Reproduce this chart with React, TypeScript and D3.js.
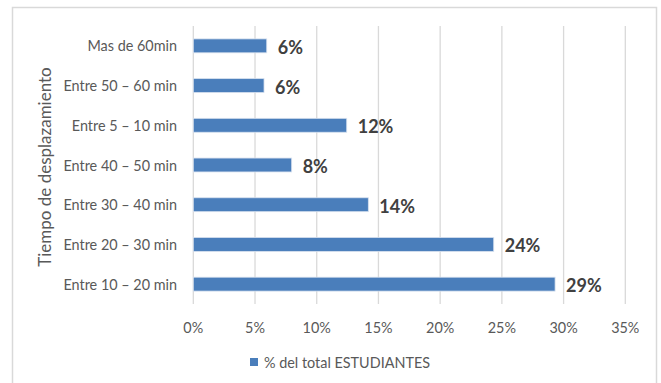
import React from "react";
import * as d3 from "d3";

// Travel-time categories, top to bottom as drawn
const categories: string[] = [
  "Mas de 60min",
  "Entre 50 – 60 min",
  "Entre 5 – 10 min",
  "Entre 40 – 50 min",
  "Entre 30 – 40 min",
  "Entre 20 – 30 min",
  "Entre 10 – 20 min",
];

// Share of all students per category
const shares: number[] = [0.0595, 0.0573, 0.1243, 0.0797, 0.1418, 0.2434, 0.2931];

const xTicks: number[] = [0, 0.05, 0.1, 0.15, 0.2, 0.25, 0.3, 0.35];

const seriesName = "% del total ESTUDIANTES";
const axisTitle = "Tiempo de desplazamiento";

const W = 661;
const H = 383;
const FONT = "Lato, 'Open Sans', sans-serif";
const BAR = "#4a7ebb";
const GRID = "#d9d9d9";
const TEXT = "#595959";
const FS = 14.4;

export default function App() {
  const x = d3.scaleLinear().domain([0, 0.35]).range([193.3, 625.3]);
  const y = d3
    .scaleBand<string>()
    .domain(categories)
    .range([26, 304])
    .paddingInner(0.65)
    .paddingOuter(0.325);
  const pct = d3.format(".0%");

  return (
    <svg
      width={W}
      height={H}
      style={{ position: "absolute", left: 0, top: 0, background: "#fff" }}
      fontFamily={FONT}
    >
      <rect x={12.5} y={7.5} width={644} height={H} fill="#fff" stroke={GRID} strokeWidth={1.5} />

      {/* vertical gridlines */}
      {xTicks.map((t) => (
        <line key={t} x1={x(t)} x2={x(t)} y1={26} y2={304} stroke={GRID} strokeWidth={1.3} />
      ))}

      {/* x tick labels */}
      {xTicks.map((t) => (
        <text key={"l" + t} x={x(t)} y={327} textAnchor="middle" dominantBaseline="central" fontSize={FS} fill={TEXT}>
          {pct(t)}
        </text>
      ))}

      {/* bars */}
      {categories.map((c, i) => (
        <rect
          key={c}
          x={x(0)}
          y={y(c)!}
          width={x(shares[i]) - x(0)}
          height={y.bandwidth()}
          fill={BAR}
          stroke="#d7e1ef"
          strokeWidth={0.8}
        />
      ))}

      {/* category labels */}
      {categories.map((c) => (
        <text key={"c" + c} x={177} y={y(c)! + y.bandwidth() / 2} textAnchor="end" dominantBaseline="central" fontSize={FS} fill={TEXT}>
          {c}
        </text>
      ))}

      {/* value labels */}
      {categories.map((c, i) => (
        <text
          key={"v" + c}
          x={x(shares[i]) + 11}
          y={y(c)! + y.bandwidth() / 2 + 1}
          dominantBaseline="central"
          fontSize={18}
          fontWeight="bold"
          fill="#404040"
        >
          {pct(shares[i])}
        </text>
      ))}

      {/* y axis title */}
      <text
        transform={`translate(44, 167) rotate(-90)`}
        textAnchor="middle"
        dominantBaseline="central"
        fontSize={17}
        fill={TEXT}
      >
        {axisTitle}
      </text>

      {/* legend */}
      <rect x={250} y={358} width={8} height={8} fill={BAR} />
      <text x={264} y={362} dominantBaseline="central" fontSize={FS} fill={TEXT}>
        {seriesName}
      </text>
    </svg>
  );
}
